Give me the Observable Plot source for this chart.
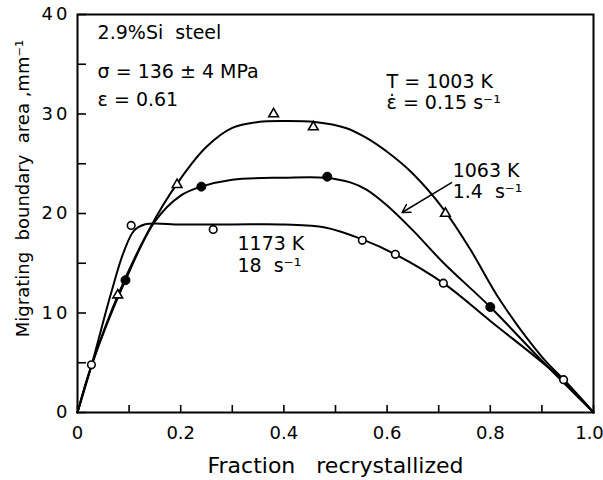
<!DOCTYPE html>
<html>
<head>
<meta charset="utf-8">
<script src="https://cdn.jsdelivr.net/npm/d3@7"></script>
<script src="https://cdn.jsdelivr.net/npm/@observablehq/plot@0.6"></script>
<style>
  html, body { margin: 0; padding: 0; background: #fff; }
  #chart svg { display: block; }
</style>
</head>
<body>
<div id="chart"></div>
<script>
// Measured points (fraction recrystallized, migrating boundary area mm^-1)
const triX = [0.078, 0.193, 0.38, 0.457, 0.713];            // T = 1003 K, 0.15 s-1
const triY = [11.8, 22.9, 30.0, 28.7, 20.0];
const dotX = [0.093, 0.24, 0.484, 0.80];                     // 1063 K, 1.4 s-1
const dotY = [13.3, 22.7, 23.7, 10.6];
const circX = [0.027, 0.104, 0.263, 0.552, 0.616, 0.709, 0.942]; // 1173 K, 18 s-1
const circY = [4.8, 18.8, 18.4, 17.3, 15.9, 13.0, 3.3];

// Fitted curves
const curve1003X = [0, 0.027, 0.08, 0.14, 0.193, 0.25, 0.30, 0.35, 0.40, 0.46, 0.52, 0.56, 0.60, 0.65, 0.71, 0.76, 0.82, 0.90, 0.95, 1.0];
const curve1003Y = [0, 4.7, 12.0, 18.5, 23.0, 26.7, 28.6, 29.2, 29.3, 29.2, 28.6, 27.6, 26.2, 24.0, 20.4, 16.5, 11.2, 5.6, 2.9, 0];
const curve1063X = [0, 0.027, 0.093, 0.15, 0.20, 0.24, 0.30, 0.40, 0.48, 0.53, 0.56, 0.60, 0.65, 0.71, 0.80, 0.90, 1.0];
const curve1063Y = [0, 4.7, 13.3, 19.2, 21.8, 22.7, 23.4, 23.6, 23.6, 23.1, 22.4, 20.8, 18.3, 15.0, 10.6, 5.2, 0];
const curve1173X = [0, 0.027, 0.064, 0.09, 0.11, 0.13, 0.20, 0.30, 0.40, 0.48, 0.552, 0.616, 0.709, 0.80, 0.942, 1.0];
const curve1173Y = [0, 4.7, 11.8, 16.2, 18.3, 18.9, 18.9, 18.9, 18.9, 18.6, 17.4, 15.9, 13.0, 9.2, 3.2, 0];

// Axis ticks
const xTickMinor = [0, 0.1, 0.2, 0.3, 0.4, 0.5, 0.6, 0.7, 0.8, 0.9, 1.0];
const xTickLabels = [0, 0.2, 0.4, 0.6, 0.8];
const xTickLabelEnd = [1.0];
const yTickMinor = [0, 5, 10, 15, 20, 25, 30, 35, 40];
const yTickLabels = [0, 10, 20, 30, 40];
const xTitle = "Fraction   recrystallized";
const yTitle = "Migrating  boundary  area ,mm⁻¹";

// Annotations
const noteText = ["2.9%Si  steel", "σ = 136 ± 4 MPa", "ε = 0.61", "T = 1003 K", "ε̇ = 0.15 s⁻¹", "1063 K", "1.4  s⁻¹", "1173 K", "18  s⁻¹"];
const noteX = [0.039, 0.039, 0.039, 0.599, 0.599, 0.727, 0.727, 0.310, 0.310];
const noteY = [38.1, 34.2, 31.4, 33.2, 31.1, 24.3, 22.2, 16.9, 14.7];
const arrowFrom = [0.725, 23.1];
const arrowTo = [0.629, 20.1];

const toRows = (xs, ys) => xs.map((x, i) => ({x, y: ys[i]}));
const notes = noteText.map((t, i) => ({t, x: noteX[i], y: noteY[i]}));
const fmtX = d => d === 0 ? "0" : d3.format(".1f")(d);

const font = "DejaVu Sans";
const plotH = 480 - 14 - 68;
const plotW = 603 - 77 - 10;
const chart = Plot.plot({
  width: 603,
  height: 480,
  marginLeft: 77,
  marginRight: 10,
  marginTop: 14,
  marginBottom: 68,
  style: {fontFamily: font, fontSize: "18px", color: "#000", background: "#fff"},
  x: {domain: [0, 1]},
  y: {domain: [0, 40]},
  marks: [
    // inward ticks: top/right-anchored axes shifted onto the bottom/left edges
    Plot.axisX({anchor: "top", ticks: xTickMinor, tickSize: 8, tickFormat: () => "", strokeWidth: 1.6, label: null, dy: plotH}),
    Plot.axisY({anchor: "right", ticks: yTickMinor, tickSize: 8, tickFormat: () => "", strokeWidth: 1.6, label: null, dx: -plotW}),
    Plot.axisX({ticks: xTickLabels, tickSize: 0, tickPadding: 14, tickFormat: fmtX, fontSize: 18, label: null}),
    Plot.axisX({ticks: xTickLabelEnd, tickSize: 0, tickPadding: 14, tickFormat: fmtX, fontSize: 18, label: null, dx: -4}),
    Plot.axisY({ticks: yTickLabels, tickSize: 0, tickPadding: 7, fontSize: 18, label: null}),
    Plot.frame({stroke: "#000", strokeWidth: 2}),
    Plot.text([xTitle], {text: d => d, frameAnchor: "bottom", dy: 53, lineAnchor: "middle", fontSize: 22, fill: "#000"}),
    Plot.text([yTitle], {text: d => d, frameAnchor: "left", rotate: -90, dx: -54, dy: -25, lineAnchor: "middle", textAnchor: "middle", fontSize: 18, fill: "#000"}),
    Plot.line(toRows(curve1003X, curve1003Y), {x: "x", y: "y", curve: "catmull-rom", stroke: "#000", strokeWidth: 2}),
    Plot.line(toRows(curve1063X, curve1063Y), {x: "x", y: "y", curve: "catmull-rom", stroke: "#000", strokeWidth: 2}),
    Plot.line(toRows(curve1173X, curve1173Y), {x: "x", y: "y", curve: "catmull-rom", stroke: "#000", strokeWidth: 2}),
    Plot.dot(toRows(triX, triY), {x: "x", y: "y", symbol: "triangle", r: 3.6, fill: "#fff", stroke: "#000", strokeWidth: 1.6}),
    Plot.dot(toRows(dotX, dotY), {x: "x", y: "y", symbol: "circle", r: 4.5, fill: "#000", stroke: "#000", strokeWidth: 1}),
    Plot.dot(toRows(circX, circY), {x: "x", y: "y", symbol: "circle", r: 3.8, fill: "#fff", stroke: "#000", strokeWidth: 1.6}),
    Plot.arrow([{x1: arrowFrom[0], y1: arrowFrom[1], x2: arrowTo[0], y2: arrowTo[1]}], {x1: "x1", y1: "y1", x2: "x2", y2: "y2", stroke: "#000", strokeWidth: 1.5, headLength: 9}),
    Plot.text(notes, {x: "x", y: "y", text: "t", textAnchor: "start", fontSize: 19, fill: "#000"})
  ]
});
// spaced digits on the y tick labels, as in the original typesetting
d3.select(chart).selectAll('g[aria-label="y-axis tick label"] text').style("letter-spacing", "3px");
document.getElementById("chart").appendChild(chart);
</script>
</body>
</html>
